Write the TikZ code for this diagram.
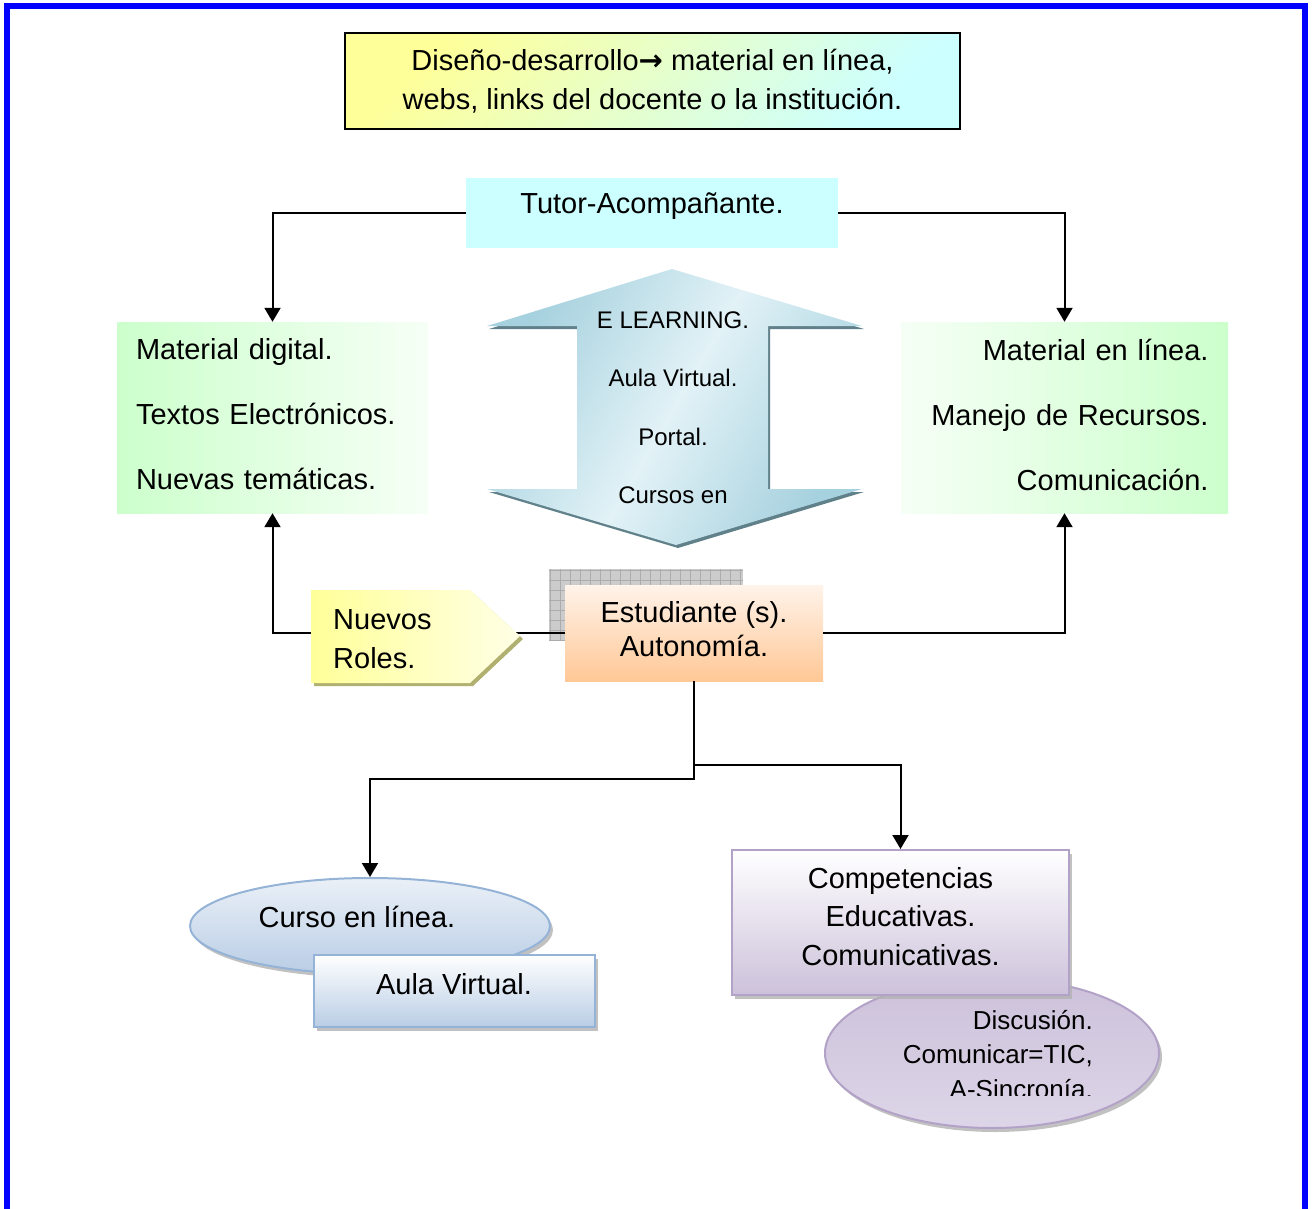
\documentclass[tikz,border=0pt]{standalone}
\usepackage{fontspec}
\setmainfont{Liberation Sans}
\newfontfamily\arrfont{DejaVu Sans}
\usetikzlibrary{arrows.meta,positioning,shapes.geometric,shadows}
\definecolor{ylw}{RGB}{255,255,153}
\definecolor{cyn}{RGB}{204,255,255}
\definecolor{grn}{RGB}{204,255,204}
\definecolor{grnlight}{RGB}{246,255,246}
\definecolor{arrdark}{RGB}{166,209,222}
\definecolor{arrlight}{RGB}{226,242,247}
\definecolor{arrshade}{RGB}{96,128,138}
\definecolor{peachtop}{RGB}{255,243,234}
\definecolor{peachbot}{RGB}{255,200,150}
\definecolor{olive}{RGB}{176,176,112}
\definecolor{bluebord}{RGB}{149,179,215}
\definecolor{bluebot}{RGB}{185,205,229}
\definecolor{purpbord}{RGB}{179,162,199}
\definecolor{purpbot}{RGB}{204,193,218}
\definecolor{purpmid}{RGB}{221,213,232}

\begin{document}
\begin{tikzpicture}[x=1pt,y=1pt,yscale=-1,
	every node/.style={font=\fontsize{29}{39}\selectfont, inner sep=0pt, text=black},
	conn/.style={line width=2pt, -{Triangle[length=14pt,width=16pt]}},
	softshadow/.style={drop shadow={shadow xshift=3pt, shadow yshift=-4pt, fill=gray!60, opacity=0.8}}]
	\useasboundingbox (0,0) rectangle (1315,1209);
	
	%Shape: Frame
	\draw [blue, line width=6pt] (7,1209) -- (7,6) -- (1305,6) -- (1305,1209) ;
	
	% Text Node
	\node [draw, line width=2pt, left color=ylw, right color=cyn, shading angle=45, minimum width=615, minimum height=96, align=center] (diseno) at (652.5,81) {Diseño-desarrollo{\arrfont\bfseries →} material en línea,\\webs, links del docente o la institución.};
	%Shape: Rectangle
	\node [fill=cyn, minimum width=372, minimum height=70] (tutor) at (652,213) {};
	% Text Node
	\node (tutortxt) at (652,206) {Tutor-Acompañante.};
	
	% Text Node
	\node [left color=grn, right color=grnlight, minimum width=311, minimum height=191] (mdig) at (272.5,417.5) {};
	\node [text width=273, align=left, font=\fontsize{29}{65}\selectfont] (mdigtxt) at (272.5,414.5) {Material digital.\\Textos Electrónicos.\\Nuevas temáticas.};
	% Text Node
	\node [left color=grnlight, right color=grn, minimum width=327, minimum height=191] (mlin) at (1064.5,417.5) {};
	\node [text width=288, align=right, font=\fontsize{29}{65}\selectfont] (mlintxt) at (1064.5,414.5) {Material en línea.\\Manejo de Recursos.\\Comunicación.};
	
	%Shape: Up Down Arrow
	\fill [arrshade, shift={(2,3)}] (672,269) -- (862,326) -- (768,326) -- (768,489) -- (862,489) -- (676,545) -- (487,489) -- (577,489) -- (577,326) -- (487,326) -- cycle ;
	\shade [left color=arrdark, right color=arrdark, middle color=arrlight, shading angle=60] (672,269) -- (862,326) -- (768,326) -- (768,489) -- (862,489) -- (676,545) -- (487,489) -- (577,489) -- (577,326) -- (487,326) -- cycle ;
	% Text Node
	\node [align=center, font=\fontsize{24}{58.5}\selectfont] (elearn) at (673,407.5) {E LEARNING.\\Aula Virtual.\\Portal.\\Cursos en};
	
	%Straight Lines
	\draw [conn] (tutor.west) -| (mdig.north) ;
	\draw [conn] (tutor.east) -| (mlin.north) ;
	
	%Shape: Grid Shadow
	\fill [gray!40] (549,569) rectangle (743,640) ;
	\draw [gray!65, step=10pt] (549,569) grid (743,640) ;
	%Shape: Rectangle
	\node [top color=peachtop, bottom color=peachbot, minimum width=258, minimum height=96] (estud) at (694,633) {};
	% Text Node
	\node [align=center, font=\fontsize{29}{34}\selectfont] (estudtxt) at (694,629) {Estudiante (s).\\Autonomía.};
	
	%Straight Lines
	\draw [conn] (estud.west) -| (mdig.south) ;
	\draw [conn] (estud.east) -| (mlin.south) ;
	
	%Shape: Pentagon
	\fill [olive, shift={(3,3)}] (311,590) -- (470,590) -- (520,636) -- (470,683) -- (311,683) -- cycle ;
	\shade [left color=ylw, right color=ylw!25] (311,590) -- (470,590) -- (520,636) -- (470,683) -- (311,683) -- cycle ;
	% Text Node
	\node [anchor=west, align=left] (roles) at (333,639.5) {Nuevos\\Roles.};
	
	%Shape: Ellipse
	\node [ellipse, draw=bluebord, line width=2pt, top color=white!70!bluebot, bottom color=bluebot, minimum width=360, minimum height=96, softshadow] (curso) at (370,926) {};
	% Text Node
	\node (cursotxt) at (357,917) {Curso en línea.};
	%Shape: Rectangle
	\node [draw=bluebord, line width=2pt, top color=white, bottom color=bluebot, minimum width=281, minimum height=72, softshadow] (aula) at (454.5,991) {};
	% Text Node
	\node (aulatxt) at (454,984) {Aula Virtual.};
	
	%Shape: Ellipse
	\node [ellipse, draw=purpbord, line width=2pt, top color=purpbot, bottom color=purpmid, minimum width=334, minimum height=150, softshadow] (discu) at (992,1053) {};
	% Text Node
	\begin{scope}
		\clip (800,990) rectangle (1170,1095) ;
		\node [align=right, font=\fontsize{26}{34.5}\selectfont, anchor=east] (discutxt) at (1093,1054.5) {Discusión.\\Comunicar=TIC,\\A-Sincronía.};
	\end{scope}
	%Shape: Rectangle
	\node [draw=purpbord, line width=2pt, top color=white, bottom color=purpbot, minimum width=337, minimum height=145, softshadow] (compet) at (900.5,922.5) {};
	% Text Node
	\node [align=center, font=\fontsize{29}{38.5}\selectfont] (competxt) at (900.5,916.5) {Competencias\\Educativas.\\Comunicativas.};
	
	%Straight Lines
	\draw [conn] (estud.south) -- ++(0,98) -| (curso.north) ;
	\draw [conn] (estud.south) -- ++(0,84) -| (compet.north) ;
	
\end{tikzpicture}
\end{document}
